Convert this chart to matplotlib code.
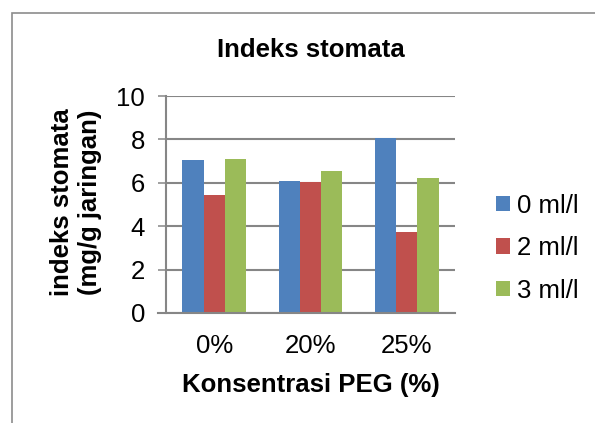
import matplotlib
matplotlib.use("Agg")
import matplotlib.pyplot as plt
import numpy as np
from matplotlib.patches import Rectangle

plt.rcParams['font.family'] = ['Liberation Sans', 'DejaVu Sans']

# data
categories = ['0%', '20%', '25%']
series_names = ['0 ml/l', '2 ml/l', '3 ml/l']
vals_0 = [7.05, 6.08, 8.08]
vals_2 = [5.44, 6.04, 3.73]
vals_3 = [7.11, 6.53, 6.21]
colors = ['#4F81BD', '#C0504D', '#9BBB59']

W, H = 595, 423
fig = plt.figure(figsize=(W / 100, H / 100), dpi=100)
fs = 18.5
grid_c = '#868686'

# axes box in pixel terms of the reference
left, right, top, bottom = 166, 455, 96, 313
ax = fig.add_axes([left / W, 1 - bottom / H, (right - left) / W, (bottom - top) / H])

x = np.arange(len(categories))
bw = 0.221
for i, (vals, c, name) in enumerate(zip([vals_0, vals_2, vals_3], colors, series_names)):
    ax.bar(x + (i - 1) * bw, vals, bw, color=c, label=name, zorder=3, linewidth=0)

ax.set_xlim(-0.5, 2.5)
ax.set_ylim(0, 10)
ax.set_yticks(np.arange(0, 11, 2))
ax.set_xticks(x)
ax.set_xticklabels(categories)
ax.yaxis.grid(True, color=grid_c, linewidth=1.5, zorder=0)
for s in ['top', 'right']:
    ax.spines[s].set_visible(False)
ax.spines['left'].set_color(grid_c)
ax.spines['left'].set_linewidth(1.5)
ax.spines['bottom'].set_color(grid_c)
ax.spines['bottom'].set_linewidth(1.5)
ax.spines['bottom'].set_bounds(-0.5 - 8 / 96.3, 2.5)
ax.spines['bottom'].set_zorder(4)
ax.tick_params(axis='y', length=6, width=1.1, color=grid_c, labelsize=fs, pad=9)
ax.tick_params(axis='x', length=0, labelsize=fs, pad=15)

# title and axis labels
fig.text(310.5 / W, 1 - 57 / H, 'Indeks stomata', ha='center', va='baseline',
         fontsize=fs, fontweight='bold')
fig.text(310.5 / W, 1 - 392 / H, 'Konsentrasi PEG (%)', ha='center', va='baseline',
         fontsize=fs, fontweight='bold')
fig.text(76 / W, 1 - 202 / H, 'indeks stomata\n(mg/g jaringan)', ha='center', va='center',
         rotation=90, fontsize=fs, fontweight='bold', multialignment='center',
         linespacing=1.25)

handles, labels = ax.get_legend_handles_labels()
fig.legend(handles, labels, loc='center left', bbox_to_anchor=(496 / W, 1 - 248 / H),
           bbox_transform=fig.transFigure, frameon=False, fontsize=fs,
           handlelength=0.55, handleheight=0.55, handletextpad=0.25,
           labelspacing=0.72, borderpad=0, borderaxespad=0)

# chart area border (cut off on right and bottom)
fig.patches.append(Rectangle((12 / W, -0.2), 1.0, 1 - 13 / H + 0.2, transform=fig.transFigure,
                             fill=False, edgecolor='#8c8c8c', linewidth=1.2))

fig.savefig('out.png', dpi=100)
